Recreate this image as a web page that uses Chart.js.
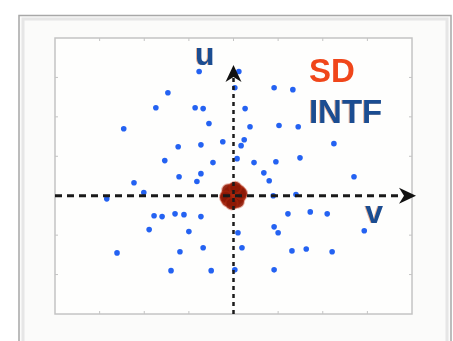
<!DOCTYPE html>
<html>
<head>
<meta charset="utf-8">
<script src="https://cdn.jsdelivr.net/npm/chart.js@4"></script>
<style>
  body { margin: 0; background: #ffffff; }
</style>
</head>
<body>
<canvas id="uv" width="453" height="341"></canvas>
<script>
// interference points (v, u)
var intfV = [-0.77, 0.12, 0.03, 0.91, 1.33, -1.47, -1.74, -0.86, -0.68, 0.26,
    -0.55, 0.37, 1.02, 1.45, -2.46, -0.24, 0.24, 2.25, -1.24, -0.73,
    0.17, 0.08, -1.54, -0.46, 0.46, 0.95, 1.49, -1.22, -0.73, -0.82,
    0.68, 0.80, 2.70, -2.23, -2.01, -2.84, 0.89, 1.40, -1.78, -1.60,
    -1.31, -1.11, -0.73, 1.22, 1.72, 2.10, -1.89, -1.00, 0.10, 0.91,
    1.00, 2.93, -2.61, -1.20, -0.68, 0.19, 1.31, 1.63, 2.21, -1.40,
    -0.50, 0.03, 0.91];
var intfU = [3.15, 3.15, 2.74, 2.74, 2.69, 2.61, 2.23, 2.23, 2.21, 2.21,
    1.83, 1.75, 1.78, 1.75, 1.70, 1.37, 1.42, 1.32, 1.24, 1.29,
    1.27, 0.94, 0.89, 0.84, 0.84, 0.86, 0.96, 0.48, 0.56, 0.36,
    0.58, 0.38, 0.48, 0.33, 0.08, -0.08, 0.00, 0.03, -0.51, -0.53,
    -0.46, -0.48, -0.53, -0.46, -0.41, -0.46, -0.86, -0.91, -0.94, -0.79,
    -0.94, -0.89, -1.45, -1.42, -1.32, -1.32, -1.40, -1.35, -1.42, -1.90,
    -1.90, -1.88, -1.88];

// SD cluster around the origin
var sdV = [0, 0.08, -0.08, 0.08, -0.08, 0.15, -0.15, 0, 0, 0.12, -0.12, 0.1, -0.13, 0.17, -0.17, 0.04, -0.04];
var sdU = [0, 0.08, 0.08, -0.08, -0.08, 0, 0, 0.17, -0.17, 0.12, 0.14, -0.15, -0.12, 0.06, -0.04, 0.2, -0.2];

// axis ranges and tick positions
var vMin = -4, vMax = 4;
var uMin = -3, uMax = 4;
var vTicks = [-3, -2, -1, 0, 1, 2, 3];
var uTicks = [-2, -1, 0, 1, 2, 3];

// labels: text, v, u (left/baseline anchor)
var labels = ["u", "SD", "INTF", "v"];
var labelV = [-0.86, 1.69, 1.69, 2.95];
var labelU = [3.32, 2.89, 1.85, -0.69];
var labelColor = ["#1b4d92", "#f0461a", "#1b4d92", "#1b4d92"];
var labelSize = [32, 33, 33, 32];

function pts(xs, ys){
    var out = [];
    for (var i = 0; i < xs.length; i++) out.push({x: xs[i], y: ys[i]});
    return out;
}

var framePlugin = {
    id: "frame",
    beforeDraw: function(chart){
        var c = chart.ctx, a = chart.chartArea;
        var xs = chart.scales.x, ys = chart.scales.y;
        c.save();
        // outer panel
        c.fillStyle = "#fbfbfa";
        c.fillRect(18, 15, 433, 330);
        c.strokeStyle = "#a8a8a8";
        c.lineWidth = 1.5;
        c.beginPath();
        c.moveTo(19, 345); c.lineTo(19, 15.5); c.lineTo(451, 15.5); c.lineTo(451, 345);
        c.stroke();
        c.strokeStyle = "#e6e6e6";
        c.lineWidth = 3;
        c.beginPath();
        c.moveTo(23, 341); c.lineTo(23, 19); c.lineTo(447, 19); c.lineTo(447, 341);
        c.stroke();
        // plot box
        c.fillStyle = "#fefefd";
        c.fillRect(a.left, a.top, a.right - a.left, a.bottom - a.top);
        c.strokeStyle = "#c4c4c4";
        c.lineWidth = 1.5;
        c.strokeRect(a.left, a.top, a.right - a.left, a.bottom - a.top);
        // inward ticks
        c.lineWidth = 1;
        c.beginPath();
        vTicks.forEach(function(t){
            var px = xs.getPixelForValue(t);
            c.moveTo(px, a.top); c.lineTo(px, a.top + 3);
            c.moveTo(px, a.bottom); c.lineTo(px, a.bottom - 3);
        });
        uTicks.forEach(function(t){
            var py = ys.getPixelForValue(t);
            c.moveTo(a.left, py); c.lineTo(a.left + 3, py);
            c.moveTo(a.right, py); c.lineTo(a.right - 3, py);
        });
        c.stroke();
        c.restore();
    },
    afterDatasetsDraw: function(chart){
        var c = chart.ctx, a = chart.chartArea;
        var xs = chart.scales.x, ys = chart.scales.y;
        var ox = xs.getPixelForValue(0), oy = ys.getPixelForValue(0);
        c.save();
        c.strokeStyle = "#1a1a1a";
        c.lineWidth = 3;
        // horizontal (v) axis
        c.setLineDash([7, 5]);
        c.beginPath();
        c.moveTo(a.left, oy); c.lineTo(a.right - 12, oy);
        c.stroke();
        // vertical (u) axis
        c.lineWidth = 2.5;
        c.setLineDash([4, 4]);
        c.beginPath();
        c.moveTo(ox, a.bottom); c.lineTo(ox, a.top + 40);
        c.stroke();
        c.setLineDash([]);
        c.fillStyle = "#111";
        // arrow heads
        var tx = a.right + 4;
        c.beginPath();
        c.moveTo(tx, oy); c.lineTo(tx - 17, oy - 8); c.lineTo(tx - 12, oy); c.lineTo(tx - 17, oy + 8);
        c.closePath(); c.fill();
        var ty = a.top + 27;
        c.beginPath();
        c.moveTo(ox, ty); c.lineTo(ox + 8, ty + 17); c.lineTo(ox, ty + 12); c.lineTo(ox - 8, ty + 17);
        c.closePath(); c.fill();
        // labels
        for (var i = 0; i < labels.length; i++){
            var lx = xs.getPixelForValue(labelV[i]), ly = ys.getPixelForValue(labelU[i]);
            c.font = "bold " + labelSize[i] + "px 'Liberation Sans', Arial, sans-serif";
            c.textBaseline = "alphabetic";
            c.textAlign = "left";
            if (labelColor[i] != "#f0461a"){
                c.fillStyle = "rgba(230,120,60,0.55)";
                c.fillText(labels[i], lx - 1, ly);
            }
            c.fillStyle = labelColor[i];
            c.fillText(labels[i], lx, ly);
        }
        c.restore();
    }
};

var ctx = document.getElementById("uv").getContext("2d");
var myChart = new Chart(ctx, {
    type: "scatter",
    data: {
        datasets: [{
            label: "INTF",
            data: pts(intfV, intfU),
            backgroundColor: "#2462f2",
            borderWidth: 0,
            pointRadius: 2.8
        }, {
            label: "SD",
            data: pts(sdV, sdU),
            backgroundColor: "rgba(140,24,6,0.9)",
            borderColor: "rgba(190,50,20,0.35)",
            borderWidth: 2,
            pointRadius: 6
        }]
    },
    options: {
        responsive: false,
        animation: false,
        layout: { padding: { left: 55, top: 38, right: 41, bottom: 27 } },
        plugins: { legend: { display: false }, tooltip: { enabled: false } },
        scales: {
            x: { type: "linear", display: false, min: vMin, max: vMax },
            y: { type: "linear", display: false, min: uMin, max: uMax }
        }
    },
    plugins: [framePlugin]
});
</script>
</body>
</html>
